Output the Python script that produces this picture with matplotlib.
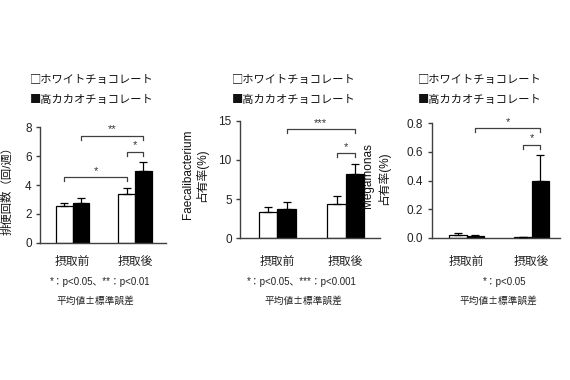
import matplotlib
matplotlib.use("Agg")
import matplotlib.pyplot as plt

plt.rcParams['font.family'] = ['Liberation Sans', 'Noto Sans CJK JP', 'DejaVu Sans']

W, H = 570, 380
fig = plt.figure(figsize=(W / 100, H / 100), dpi=100)

# ---------------- data ----------------
groups = ["摂取前", "摂取後"]
series = ["ホワイトチョコレート", "高カカオチョコレート"]

bowel_white = [2.55, 3.35]
bowel_white_err = [0.17, 0.42]
bowel_black = [2.72, 4.95]
bowel_black_err = [0.35, 0.62]

faecali_white = [3.4, 4.38]
faecali_white_err = [0.55, 1.0]
faecali_black = [3.74, 8.15]
faecali_black_err = [0.85, 1.38]

mega_white = [0.021, 0.005]
mega_white_err = [0.013, 0.003]
mega_black = [0.012, 0.40]
mega_black_err = [0.004, 0.18]

ylabels = ["排便回数（回/週）", "Faecalibacterium\n占有率(%)", "Megamonas\n占有率(%)"]
yticks_list = [[0, 2, 4, 6, 8], [0, 5, 10, 15], [0.0, 0.2, 0.4, 0.6, 0.8]]
ytick_fmt = ["{:g}", "{:g}", "{:.1f}"]
notes1 = ["*：p<0.05、**：p<0.01", "*：p<0.05、***：p<0.001", "*：p<0.05"]
note2 = "平均値±標準誤差"

# brackets: (group_a, series_a, group_b, series_b, level, label)
brackets = [
    [(0, 0, 1, 0, 4.53, "*"), (0, 1, 1, 1, 7.4, "**"), (1, 0, 1, 1, 6.3, "*")],
    [(0, 1, 1, 1, 13.9, "***"), (1, 0, 1, 1, 10.85, "*")],
    [(0, 1, 1, 1, 0.765, "*"), (1, 0, 1, 1, 0.65, "*")],
]

# ---------------- layout (pixels) ----------------
panels = [
    dict(left=40, right=166, top=127.3, bottom=242.7, xlim=(-0.525, 1.498), ylim=(0, 8), bw=0.268,
         white=bowel_white, werr=bowel_white_err, black=bowel_black, berr=bowel_black_err,
         ylab_xy=[(7, 188)], legend_x=30, note_x=(100, 95), xpad=9.6),
    dict(left=240, right=380, top=120.7, bottom=238.3, xlim=(-0.549, 1.502), ylim=(0, 15), bw=0.27,
         white=faecali_white, werr=faecali_white_err, black=faecali_black, berr=faecali_black_err,
         ylab_xy=[(188, 174), (202, 175)], legend_x=232, note_x=(302, 303), xpad=12.7),
    dict(left=431.7, right=560, top=123.3, bottom=237.7, xlim=(-0.538, 1.435), ylim=(0, 0.8), bw=0.27,
         white=mega_white, werr=mega_white_err, black=mega_black, berr=mega_black_err,
         ylab_xy=[(368, 176), (384, 178)], legend_x=418, note_x=(505, 498), xpad=13.2),
]

axcol = "#404040"
for i, p in enumerate(panels):
    ax = fig.add_axes([p["left"] / W, 1 - p["bottom"] / H,
                       (p["right"] - p["left"]) / W, (p["bottom"] - p["top"]) / H])
    bw = p["bw"]
    xs = list(range(len(groups)))
    xw = [x - bw / 2 for x in xs]
    xb = [x + bw / 2 for x in xs]
    ax.bar(xw, p["white"], width=bw, color="white", edgecolor="black", linewidth=0.9, zorder=2)
    ax.bar(xb, p["black"], width=bw, color="black", edgecolor="black", linewidth=0.9, zorder=2)
    ax.errorbar(xw, p["white"], yerr=[[0] * 2, p["werr"]], fmt="none", ecolor="black",
                elinewidth=0.9, capsize=3, capthick=0.9, zorder=3)
    ax.errorbar(xb, p["black"], yerr=[[0] * 2, p["berr"]], fmt="none", ecolor="black",
                elinewidth=0.9, capsize=3, capthick=0.9, zorder=3)
    ax.set_xlim(*p["xlim"])
    ax.set_ylim(*p["ylim"])
    for s in ["top", "right"]:
        ax.spines[s].set_visible(False)
    for s in ["left", "bottom"]:
        ax.spines[s].set_color(axcol)
        ax.spines[s].set_linewidth(1.0)
    ax.set_yticks(yticks_list[i])
    ax.set_yticklabels([ytick_fmt[i].format(v) for v in yticks_list[i]])
    ax.tick_params(axis="y", length=3, width=1.0, color=axcol, pad=3, labelsize=8.5,
                   labelcolor="#222222")
    ax.set_xticks(xs)
    ax.set_xticklabels(groups)
    ax.tick_params(axis="x", length=0, pad=p["xpad"], labelsize=8.5, labelcolor="#222222")
    ax.patch.set_alpha(0)

    # brackets
    yr = p["ylim"][1] - p["ylim"][0]
    px_per_unit = (p["bottom"] - p["top"]) / yr
    drop = 4.0 / px_per_unit
    for (ga, sa, gb, sb, lvl, lab) in brackets[i]:
        xa = ga + (bw / 2 if sa else -bw / 2)
        xb2 = gb + (bw / 2 if sb else -bw / 2)
        ax.plot([xa, xa, xb2, xb2], [lvl - drop, lvl, lvl, lvl - drop], color=axcol,
                linewidth=0.9, clip_on=False, zorder=4)
        ax.text((xa + xb2) / 2, lvl + 1.5 / px_per_unit, lab, ha="center", va="bottom",
                fontsize=8, color="#333333")

    # y label
    labs = ylabels[i].split("\n")
    for (lx, ly), t in zip(p["ylab_xy"], labs):
        fig.text(lx / W, 1 - ly / H, t, rotation=90, ha="center", va="center",
                 fontsize=8.5 if i else 8.2, color="#111111")

    # legend
    fig.text(p["legend_x"] / W, 1 - 80 / H, "□" + series[0], ha="left", va="center",
             fontsize=8.1, color="#111111", family=["Noto Sans CJK JP"])
    fig.text(p["legend_x"] / W, 1 - 100 / H, "■" + series[1], ha="left", va="center",
             fontsize=8.1, color="#111111", family=["Noto Sans CJK JP"])

    # notes
    fig.text(p["note_x"][0] / W, 1 - 282 / H, notes1[i], ha="center", va="center",
             fontsize=7.0, color="#222222")
    fig.text(p["note_x"][1] / W, 1 - 301 / H, note2, ha="center", va="center",
             fontsize=7.0, color="#222222", family=["Noto Sans CJK JP"])

fig.savefig("out.png", dpi=100, facecolor="white")
